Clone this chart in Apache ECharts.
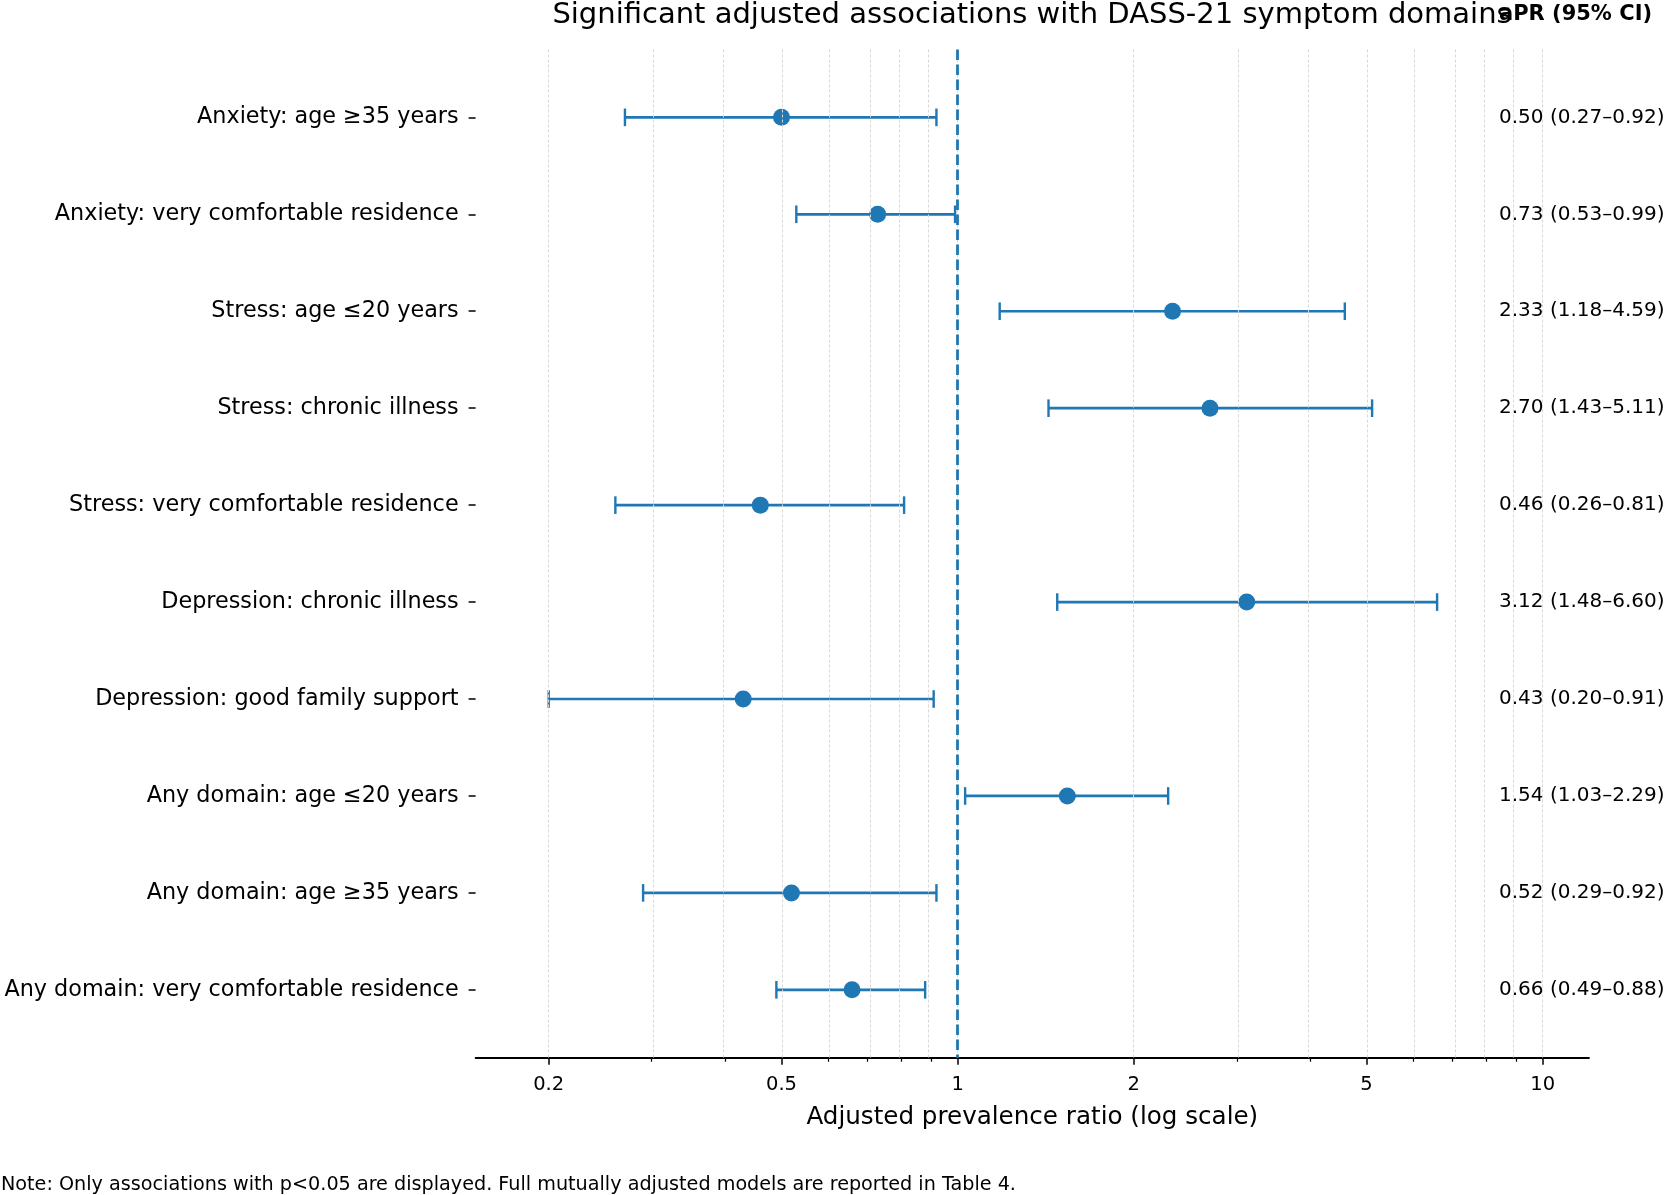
<!DOCTYPE html>
<html>
<head>
<meta charset="utf-8">
<script src="https://cdn.jsdelivr.net/npm/echarts@6/dist/echarts.min.js"></script>
<style>
  html, body { margin: 0; padding: 0; background: #ffffff; }
  #chart { width: 1665px; height: 1195px; }
</style>
</head>
<body>
<div id="chart"></div>
<script>
// ---- data ----
const categories = [
  'Anxiety: age \u226535 years',
  'Anxiety: very comfortable residence',
  'Stress: age \u226420 years',
  'Stress: chronic illness',
  'Stress: very comfortable residence',
  'Depression: chronic illness',
  'Depression: good family support',
  'Any domain: age \u226420 years',
  'Any domain: age \u226535 years',
  'Any domain: very comfortable residence'
];
const apr   = [0.50, 0.73, 2.33, 2.70, 0.46, 3.12, 0.43, 1.54, 0.52, 0.66];
const ciLow = [0.27, 0.53, 1.18, 1.43, 0.26, 1.48, 0.20, 1.03, 0.29, 0.49];
const ciHigh= [0.92, 0.99, 4.59, 5.11, 0.81, 6.60, 0.91, 2.29, 0.92, 0.88];
const majorTicks = [0.2, 0.5, 1, 2, 5, 10];
const majorTickLabels = ['0.2', '0.5', '1', '2', '5', '10'];
const minorTicks = [0.3, 0.4, 0.6, 0.7, 0.8, 0.9, 3, 4, 6, 7, 8, 9];
const gridValues = [0.2, 0.3, 0.4, 0.5, 0.6, 0.7, 0.8, 0.9, 1, 2, 3, 4, 5, 6, 7, 8, 9, 10];
const xRange = [0.15, 12];
const refValue = 1;
const titleText = 'Significant adjusted associations with DASS-21 symptom domains';
const headerText = 'aPR (95% CI)';
const xAxisTitle = 'Adjusted prevalence ratio (log scale)';
const noteText = 'Note: Only associations with p<0.05 are displayed. Full mutually adjusted models are reported in Table 4.';

// ---- derived ----
const L = Math.log10;
const rowIdx = categories.map((_, i) => i);
const ciText = apr.map((v, i) => v.toFixed(2) + ' (' + ciLow[i].toFixed(2) + '\u2013' + ciHigh[i].toFixed(2) + ')');
const majorLog = majorTicks.map(L);
const minorLog = minorTicks.map(L);
const FONT = 'DejaVu Sans';
const BLUE = '#1f77b4';

const chart = echarts.init(document.getElementById('chart'), null, { renderer: 'canvas' });

const option = {
  backgroundColor: '#ffffff',
  animation: false,
  graphic: [
    { type: 'text', x: 1032, y: 15, z: 10, silent: true,
      style: { text: titleText, fontFamily: FONT, fontSize: 29, fill: '#000', align: 'center', verticalAlign: 'middle' } },
    { type: 'text', x: 1499, y: 15, z: 11, silent: true,
      style: { text: headerText, fontFamily: FONT, fontSize: 21, fontWeight: 'bold', fill: '#000', align: 'left', verticalAlign: 'middle' } },
    { type: 'text', x: 1, y: 1185, z: 10, silent: true,
      style: { text: noteText, fontFamily: FONT, fontSize: 19.2, fill: '#000', align: 'left', verticalAlign: 'middle' } }
  ],
  grid: { left: 475.6, right: 76, top: 49.5, bottom: 137.3, containLabel: false, outerBoundsMode: 'none' },
  xAxis: [
    {
      type: 'value', min: L(xRange[0]), max: L(xRange[1]),
      axisLine: { show: true, onZero: false, lineStyle: { color: '#000', width: 1.8 } },
      axisTick: { show: true, customValues: majorLog, length: 7, lineStyle: { color: '#000', width: 1.5 } },
      axisLabel: {
        customValues: majorLog, margin: 17, color: '#000', fontFamily: FONT, fontSize: 19.5,
        formatter: function (v) {
          for (let i = 0; i < majorLog.length; i++) if (Math.abs(majorLog[i] - v) < 1e-6) return majorTickLabels[i];
          return '';
        }
      },
      splitLine: { show: false },
      name: xAxisTitle, nameLocation: 'middle', nameGap: 47,
      nameTextStyle: { fontFamily: FONT, fontSize: 24.6, color: '#000', verticalAlign: 'top' }
    },
    {
      type: 'value', min: L(xRange[0]), max: L(xRange[1]), position: 'bottom',
      axisLine: { show: false, onZero: false },
      axisTick: { show: true, customValues: minorLog, length: 4, lineStyle: { color: '#000', width: 1.2 } },
      axisLabel: { show: false },
      splitLine: { show: false }
    }
  ],
  yAxis: [
    {
      type: 'value', inverse: true, min: -0.7, max: 9.7,
      axisLine: { show: false, onZero: false },
      axisTick: { show: true, customValues: rowIdx, length: 7, lineStyle: { color: '#000', width: 1.5 } },
      axisLabel: {
        customValues: rowIdx, margin: 17, color: '#000', fontFamily: FONT, fontSize: 22.3,
        padding: [4, 0, 0, 0],
        formatter: function (v) { return categories[Math.round(v)] || ''; }
      },
      splitLine: { show: false }
    },
    {
      type: 'value', inverse: true, min: -0.7, max: 9.7, position: 'right',
      axisLine: { show: false, onZero: false },
      axisTick: { show: false },
      axisLabel: {
        customValues: rowIdx, margin: -90, align: 'left', color: '#000', fontFamily: FONT, fontSize: 20,
        padding: [2, 0, 0, 0],
        formatter: function (v) { return ciText[Math.round(v)] || ''; }
      },
      splitLine: { show: false }
    }
  ],
  series: [
    {
      // grid lines + reference line
      type: 'scatter', data: [], silent: true, z: 1,
      markLine: {
        silent: true, symbol: ['none', 'none'], label: { show: false }, animation: false,
        data: gridValues.map(v => ({ xAxis: L(v), lineStyle: { color: '#d8d8d8', width: 1, type: [3, 2] } }))
          .concat([{ xAxis: L(refValue), lineStyle: { color: BLUE, width: 2.8, type: [10.5, 4.5] } }])
      }
    },
    {
      type: 'custom', z: 3, silent: true,
      data: rowIdx.map(i => [i, L(ciLow[i]), L(ciHigh[i])]),
      encode: { x: [1, 2], y: 0 },
      renderItem: function (params, api) {
        const y = api.value(0);
        const p1 = api.coord([api.value(1), y]);
        const p2 = api.coord([api.value(2), y]);
        const c = 8.8;
        const st = { stroke: BLUE, lineWidth: 2.7 };
        return {
          type: 'group',
          children: [
            { type: 'line', shape: { x1: p1[0], y1: p1[1], x2: p2[0], y2: p2[1] }, style: st },
            { type: 'line', shape: { x1: p1[0], y1: p1[1] - c, x2: p1[0], y2: p1[1] + c }, style: { stroke: BLUE, lineWidth: 2.4 } },
            { type: 'line', shape: { x1: p2[0], y1: p2[1] - c, x2: p2[0], y2: p2[1] + c }, style: { stroke: BLUE, lineWidth: 2.4 } }
          ]
        };
      }
    },
    {
      type: 'scatter', z: 4, silent: true,
      data: rowIdx.map(i => [L(apr[i]), i]),
      symbol: 'circle', symbolSize: 17,
      itemStyle: { color: BLUE, opacity: 1 }
    }
  ]
};
chart.setOption(option);
</script>
</body>
</html>
